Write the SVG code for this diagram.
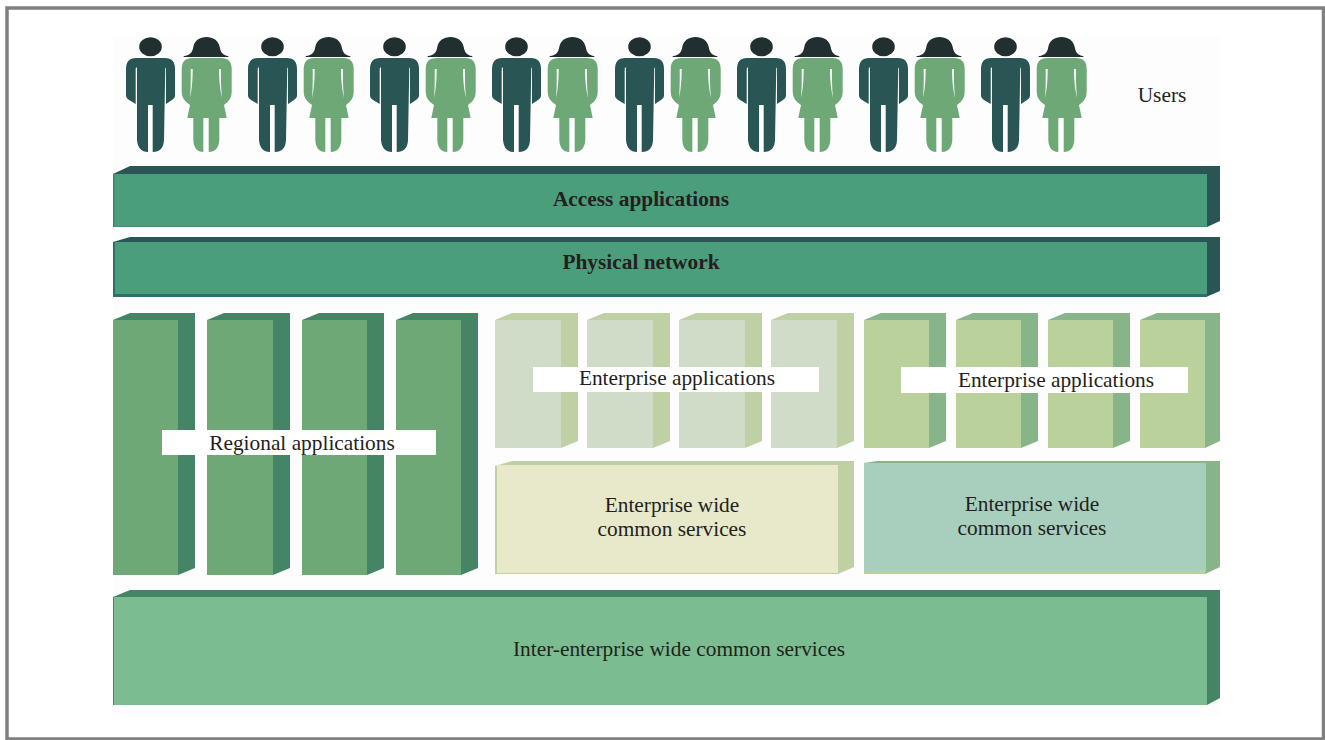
<svg xmlns="http://www.w3.org/2000/svg" xmlns:xlink="http://www.w3.org/1999/xlink" width="1325" height="740" viewBox="0 0 1325 740">
<style>
text{font-family:"Liberation Serif","Times New Roman",serif;font-size:21.35px;fill:#231f20;text-anchor:middle}
.b{font-weight:bold}
.dk{fill:#2a5555}.g1{fill:#4a9e7c}
.c1{fill:#6ea877}.c1s{fill:#458566}
.c2{fill:#d0dcc8}.c2s{fill:#bed0a4}
.c3{fill:#bbd19c}.c3s{fill:#88b48a}
.lab{fill:#fff}
</style>
<defs>
<g id="man">
<ellipse cx="24.5" cy="10.700" rx="11.300" ry="9.500" fill="#212f30"/>
<path class="dk" d="M10 22H39Q49 22 49 33V60Q49 62 46 64L40 68V33Q40 31 39.300 31.500L38 104Q37.500 116 26.700 116V69H22V116Q12 116 11 104V31.500Q9.700 31 9.700 33V68L3 64Q0 62 0 60V33Q0 22 10 22Z"/>
</g>
<g id="woman">
<path fill="#212f30" d="M2 20C8 19.500 10.500 16 11.300 11C12.300 4.500 18 1 24.500 1C31 1 36.500 4.500 37.700 11C38.500 16 41 19.500 46 20Q47.500 21 45 21H3Q0.500 21 2 20Z"/>
<path class="c1" d="M10.500 22H39Q49.700 22 49.700 33V56Q49.700 64 42 69L44.700 82H37.300V104Q36.500 116 26.700 116V82H21.300V116Q12 116 11.300 104V82H5.300L8 69Q-0.300 64 -0.300 56V33Q-0.300 22 10.500 22Z"/>
<path fill="#fdfdfd" d="M8.700 33Q9 50 8 62Q10.700 50 10.700 33ZM39 33Q38.700 50 40 62Q37 50 37 33Z"/>
</g>
</defs>
<rect x="0" y="0" width="1325" height="740" fill="#fff"/>
<rect x="113" y="36" width="1107" height="679" fill="#fdfdfd"/>
<path d="M7 8H1323.500V739H7Z" fill="none" stroke="#808080" stroke-width="3.500"/>

<g id="users">
<use xlink:href="#man" href="#man" x="126" y="36"/><use xlink:href="#woman" href="#woman" x="182" y="36"/>
<use xlink:href="#man" href="#man" x="248" y="36"/><use xlink:href="#woman" href="#woman" x="304" y="36"/>
<use xlink:href="#man" href="#man" x="370" y="36"/><use xlink:href="#woman" href="#woman" x="426" y="36"/>
<use xlink:href="#man" href="#man" x="492" y="36"/><use xlink:href="#woman" href="#woman" x="548" y="36"/>
<use xlink:href="#man" href="#man" x="615" y="36"/><use xlink:href="#woman" href="#woman" x="671" y="36"/>
<use xlink:href="#man" href="#man" x="737" y="36"/><use xlink:href="#woman" href="#woman" x="793" y="36"/>
<use xlink:href="#man" href="#man" x="859" y="36"/><use xlink:href="#woman" href="#woman" x="915" y="36"/>
<use xlink:href="#man" href="#man" x="981" y="36"/><use xlink:href="#woman" href="#woman" x="1037" y="36"/>
<text x="1162" y="101.500">Users</text>
</g>

<g id="access">
<path class="dk" d="M113 174L130 166H1220V221L1207 227Z"/>
<rect x="113" y="174" width="1094" height="53" fill="#3a8078"/>
<rect class="g1" x="114.500" y="174" width="1092.500" height="52.500"/>
<text class="b" x="641" y="205.500">Access applications</text>
</g>
<g id="physical">
<path class="dk" d="M113 242L130 237H1220V291L1206 297H113Z"/>
<rect x="113" y="242" width="1094" height="55" fill="#2f6e6c"/>
<rect class="g1" x="115" y="242" width="1092" height="52"/>
<text class="b" x="641" y="268.500">Physical network</text>
</g>

<g id="regional">
<path class="c1s" d="M113 320L130 313H195V568L178 575Z"/><rect class="c1" x="113" y="320" width="65" height="255"/>
<path class="c1s" d="M207 320L224 313H290V568L273 575Z"/><rect class="c1" x="207" y="320" width="66" height="255"/>
<path class="c1s" d="M302 320L319 313H384V568L367 575Z"/><rect class="c1" x="302" y="320" width="65" height="255"/>
<path class="c1s" d="M396 320L413 313H478V568L461 575Z"/><rect class="c1" x="396" y="320" width="65" height="255"/>
<rect class="lab" x="162" y="430" width="274" height="25"/>
<text x="302" y="450">Regional applications</text>
</g>

<g id="enterprise-a">
<path class="c2s" d="M495 320L512 313H578V441L561 448Z"/><rect class="c2" x="495" y="320" width="66" height="128"/>
<path class="c2s" d="M587 320L604 313H670V441L653 448Z"/><rect class="c2" x="587" y="320" width="66" height="128"/>
<path class="c2s" d="M679 320L696 313H762V441L745 448Z"/><rect class="c2" x="679" y="320" width="66" height="128"/>
<path class="c2s" d="M771 320L788 313H854V441L837 448Z"/><rect class="c2" x="771" y="320" width="66" height="128"/>
<rect class="lab" x="533" y="367" width="286" height="25"/>
<text x="677" y="385">Enterprise applications</text>
</g>

<g id="enterprise-b">
<path class="c3s" d="M864 320L881 313H946V441L929 448Z"/><rect class="c3" x="864" y="320" width="65" height="128"/>
<path class="c3s" d="M956 320L973 313H1038V441L1021 448Z"/><rect class="c3" x="956" y="320" width="65" height="128"/>
<path class="c3s" d="M1048 320L1065 313H1130V441L1113 448Z"/><rect class="c3" x="1048" y="320" width="65" height="128"/>
<path class="c3s" d="M1140 320L1157 313H1220V441L1205 448Z"/><rect class="c3" x="1140" y="320" width="65" height="128"/>
<rect class="lab" x="901" y="367" width="287" height="26"/>
<text x="1056" y="387">Enterprise applications</text>
</g>

<g id="common-a">
<path class="c2s" d="M495 466L512 461H854V567L838 574H495Z"/>
<rect x="497" y="465" width="341" height="108" fill="#e8e8ca"/>
<text x="672" y="512">Enterprise wide</text>
<text x="672" y="536">common services</text>
</g>
<g id="common-b">
<path class="c3s" d="M864 463L877 461H1220V567L1205 574H864Z"/>
<rect x="864" y="463" width="342" height="109" fill="#a8cfbd"/>
<rect class="c3" x="864" y="571.500" width="341" height="2.500"/>
<text x="1032" y="511">Enterprise wide</text>
<text x="1032" y="535">common services</text>
</g>

<g id="inter">
<path class="c1s" d="M113 597L130 590H1220V698L1207 705H113Z"/>
<rect x="114" y="597" width="1093" height="108" fill="#7bbd90"/>
<text x="679" y="656">Inter-enterprise wide common services</text>
</g>
</svg>
